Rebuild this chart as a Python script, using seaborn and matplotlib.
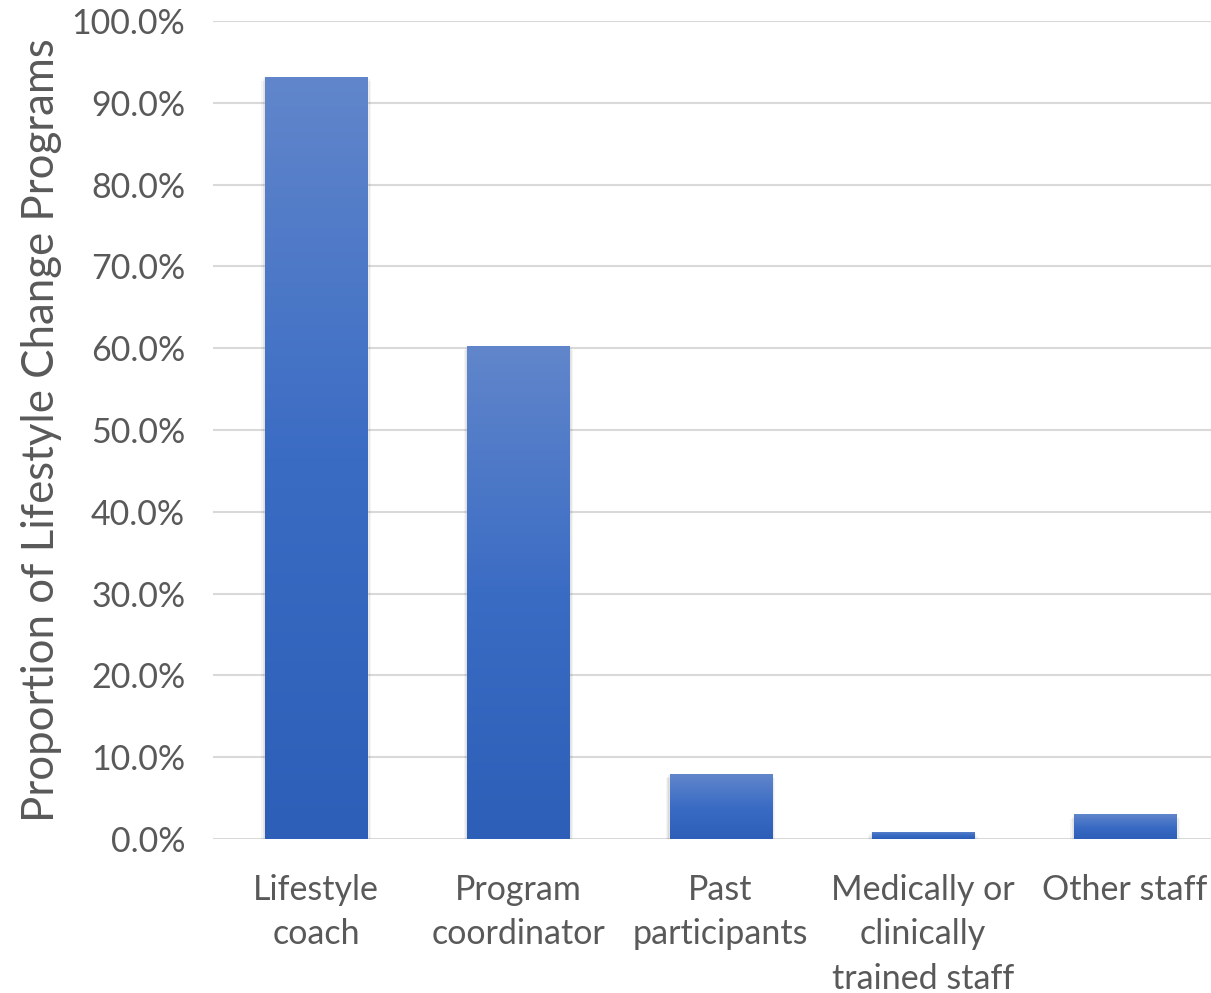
import numpy as np
import pandas as pd
import seaborn as sns
import matplotlib.pyplot as plt
from matplotlib.colors import LinearSegmentedColormap
from matplotlib.ticker import PercentFormatter

roles = ["Lifestyle\ncoach", "Program\ncoordinator", "Past\nparticipants",
         "Medically or\nclinically\ntrained staff", "Other staff"]
proportions = [0.932, 0.603, 0.079, 0.009, 0.030]

df = pd.DataFrame({"role": roles, "prop": proportions})

sns.set_style("white")
plt.rcParams["font.family"] = ["Lato", "DejaVu Sans"]
text_color = "#595959"

fig = plt.figure(figsize=(12.11, 9.93), dpi=100)
ax = fig.add_axes([213 / 1211, 1 - 839 / 993, (1211 - 213) / 1211, (839 - 21) / 993])

sns.barplot(data=df, x="role", y="prop", color="#3f6fc4", width=0.505,
            saturation=1, ax=ax, zorder=3)

# gradient fill on each bar, lighter at top
grad = LinearSegmentedColormap.from_list("g", ["#2d5fb8", "#3b6cc4", "#6186cb"])
for bar in ax.patches:
    x0, y0 = bar.get_x(), bar.get_y()
    w, h = bar.get_width(), bar.get_height()
    # soft shadow
    for k, a in enumerate([0.06, 0.05, 0.04]):
        d = 0.006 * (k + 1)
        ax.add_patch(plt.Rectangle((x0 - d, y0 - 0.002 * (k + 1)), w + 2 * d, h + 0.001,
                                   color="black", alpha=a, lw=0, zorder=2))
    img = ax.imshow(np.linspace(0, 1, 256).reshape(-1, 1), cmap=grad, aspect="auto",
                    extent=[x0, x0 + w, y0, y0 + h], origin="lower", zorder=4)
    img.set_clip_path(bar)

ax.set_xlim(-0.51, 4.425)
ax.set_ylim(0, 1.0)
ax.set_yticks(np.arange(0, 1.01, 0.1))
ax.yaxis.set_major_formatter(PercentFormatter(1.0, decimals=1))
ax.grid(axis="y", color="#d9d9d9", lw=1.5, zorder=0)
sns.despine(ax=ax, left=True, bottom=True, top=True, right=True)
ax.axhline(0, color="#d9d9d9", lw=2, zorder=1)

ax.tick_params(axis="both", length=0, labelsize=24.5, colors=text_color)
ax.tick_params(axis="y", pad=20)
ax.tick_params(axis="x", pad=25)
for lbl in ax.get_xticklabels():
    lbl.set_linespacing(1.48)
    lbl.set_verticalalignment("top")

ax.set_xlabel("")
ax.set_ylabel("Proportion of Lifestyle Change Programs", fontsize=31.5,
              color=text_color, labelpad=7)

fig.savefig("out.png", dpi=100)
